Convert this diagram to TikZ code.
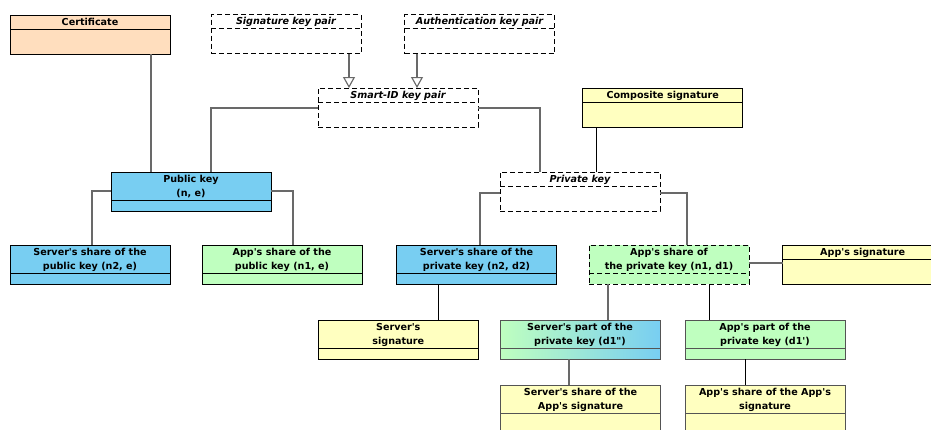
\documentclass[tikz,border=0pt]{standalone}
\usepackage{fontspec}
\newfontfamily\diafont{DejaVu Sans}
\usetikzlibrary{arrows.meta}
\definecolor{peach}{RGB}{255,222,190}
\definecolor{kblue}{RGB}{120,206,242}
\definecolor{kgreen}{RGB}{191,255,191}
\definecolor{kyellow}{RGB}{255,255,192}
\definecolor{lgray}{RGB}{105,105,105}
\newcommand{\hdrfont}{\diafont\bfseries\fontsize{7.2pt}{10.5pt}\selectfont}
\tikzset{
  box/.style={draw=black, line width=0.7pt, minimum width=120pt, minimum height=29.25pt, inner sep=0pt, outer sep=0pt},
  nbox/.style={box, minimum width=112.5pt},
  dbox/.style={dash pattern=on 3.75pt off 2.25pt},
  div/.style 2 args={path picture={\draw[line width=0.7pt,#2] ([yshift=-#1]path picture bounding box.north west) -- ([yshift=-#1]path picture bounding box.north east);}},
  hdr/.style={anchor=north, font=\hdrfont, align=center, inner sep=0pt, yshift=-2.2pt},
  hdri/.style={hdr, font=\hdrfont\itshape},
  gconn/.style={draw=lgray, line width=0.85pt},
  bconn/.style={draw=black, line width=0.75pt},
  gen/.style={gconn, -{Triangle[open, width=9pt, length=8.25pt, fill=white]}},
}
\begin{document}
\begin{tikzpicture}[x=0.75pt, y=-0.75pt]
\useasboundingbox (0,0) rectangle (931,429);
\clip (0,0) rectangle (931,429);
\fill[white] (0,0) rectangle (931,429);
% boxes
\node[box, fill=peach, div={10.5pt}{}, label={[hdr]north:Certificate}] (cert) at (90,34.5) {};
\node[nbox, dbox, div={10.5pt}{dbox}, label={[hdri]north:Signature key pair}] (sig) at (286,34) {};
\node[nbox, dbox, div={10.5pt}{dbox}, label={[hdri]north:Authentication key pair}] (auth) at (479.5,34) {};
\node[box, dbox, div={10.5pt}{dbox}, label={[hdri]north:Smart-ID key pair}] (smart) at (398,107.5) {};
\node[box, fill=kyellow, div={10.5pt}{}, label={[hdr]north:Composite signature}] (comp) at (662.7,107.5) {};
\node[box, fill=kblue, div={21pt}{}, label={[hdr]north:{Public key\\(n, e)}}] (pub) at (191,191.5) {};
\node[box, dbox, div={10.5pt}{dbox}, label={[hdri]north:Private key}] (priv) at (580,191.5) {};
\node[box, fill=kblue, div={21pt}{}, label={[hdr]north:{Server's share of the\\public key (n2, e)}}] (spub) at (90,264.5) {};
\node[box, fill=kgreen, div={21pt}{}, label={[hdr]north:{App's share of the\\public key (n1, e)}}] (apub) at (282,264.5) {};
\node[box, fill=kblue, div={21pt}{}, label={[hdr]north:{Server's share of the\\private key (n2, d2)}}] (spriv) at (476.5,264.5) {};
\node[box, dbox, fill=kgreen, div={21pt}{dbox}, label={[hdr]north:{App's share of\\the private key (n1, d1)}}] (apriv) at (669,264.5) {};
\node[box, fill=kyellow, div={10.5pt}{}, label={[hdr]north:App's signature}] (asig) at (862.7,264.5) {};
\node[box, fill=kyellow, div={21pt}{}, label={[hdr]north:{Server's\\signature}}] (ssig) at (398.3,339.5) {};
\node[box, draw=lgray!80!black, left color=kgreen, right color=kblue, div={21pt}{}, label={[hdr]north:{Server's part of the\\private key (d1")}}] (spart) at (580,339.5) {};
\node[box, draw=lgray!80!black, fill=kgreen, div={21pt}{}, label={[hdr]north:{App's part of the\\private key (d1')}}] (apps) at (765,339.5) {};
\node[box, draw=lgray!80!black, fill=kyellow, minimum height=37.5pt, div={21pt}{}, label={[hdr]north:{Server's share of the\\App's signature}}] (sssig) at (580.5,410) {};
\node[box, draw=lgray!80!black, fill=kyellow, minimum height=37.5pt, div={21pt}{}, label={[hdr]north:{App's share of the App's\\signature}}] (apss) at (765,410) {};
% connectors
\draw[gen] (sig.south -| 349,0) -- (smart.north -| 349,0);
\draw[gen] (auth.south -| 417,0) -- (smart.north -| 417,0);
\draw[gconn] (cert.south -| 151,0) -- (pub.north -| 151,0);
\draw[gconn] (smart.west |- 0,108) -| (pub.north -| 211,0);
\draw[gconn] (smart.east |- 0,108) -| (priv.north -| 540,0);
\draw[bconn] (comp.south -| 596,0) -- (priv.north -| 596,0);
\draw[gconn] (pub.west |- 0,191) -| (spub.north -| 92,0);
\draw[gconn] (pub.east |- 0,191) -| (apub.north -| 293,0);
\draw[gconn] (priv.west |- 0,193) -| (spriv.north -| 480,0);
\draw[gconn] (priv.east |- 0,193) -| (apriv.north -| 687,0);
\draw[bconn] (spriv.south -| 438,0) -- (ssig.north -| 438,0);
\draw[gconn] (apriv.south -| 608,0) -- (spart.north -| 608,0);
\draw[bconn] (apriv.south -| 709,0) -- (apps.north -| 709,0);
\draw[gconn] (apriv.east |- 0,263) -- (asig.west |- 0,263);
\draw[gconn] (spart.south -| 569,0) -- (sssig.north -| 569,0);
\draw[bconn] (apps.south -| 745,0) -- (apss.north -| 745,0);
\end{tikzpicture}
\end{document}
